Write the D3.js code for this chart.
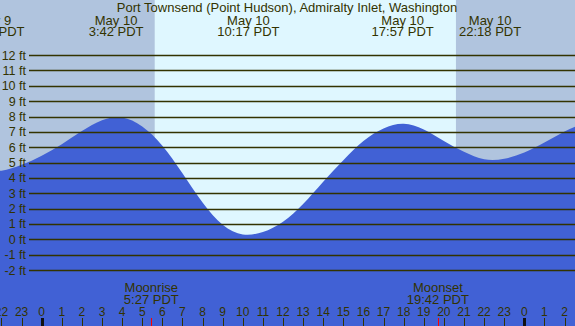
<!DOCTYPE html>
<html>
<head>
<meta charset="utf-8">
<script src="https://d3js.org/d3.v7.min.js"></script>
<style>
  body { margin: 0; background: #fff; }
  svg { display: block; font-family: "Liberation Sans", Arial, sans-serif; }
</style>
</head>
<body>
<script>
// hourly tide heights (hours from midnight May 10, feet)
var tideHours = d3.range(-3, 28)
var tideFeet  = [4.5, 4.47, 4.85, 5.45, 6.2, 7.05, 7.75, 7.93, 7.35, 6.1, 4.3, 2.4, 0.95, 0.32, 0.48, 1.15,
                 2.3, 3.75, 5.15, 6.4, 7.22, 7.52, 7.15, 6.4, 5.7, 5.22, 5.25, 5.65, 6.3, 7.02, 7.6]

// high / low labels
var eventHours = [-2.4, 3.7, 10.28, 17.95, 22.3]
var eventDates = ['May 9', 'May 10', 'May 10', 'May 10', 'May 10']
var eventTimes = ['21:36 PDT', '3:42 PDT', '10:17 PDT', '17:57 PDT', '22:18 PDT']

// sun and moon
var sunrise = 5.62, sunset = 20.6
var moonHours = [5.45, 19.7]
var moonNames = ['Moonrise', 'Moonset']
var moonTimes = ['5:27 PDT', '19:42 PDT']

var feetTicks = [12, 11, 10, 9, 8, 7, 6, 5, 4, 3, 2, 1, 0, -1, -2]
var hourTicks = d3.range(-2, 27)

var title = 'Port Townsend (Point Hudson), Admiralty Inlet, Washington'

var width = 575, height = 326
var ink = '#333300'

var x = d3.scaleLinear().domain([0, 24]).range([41.7, 524.3])
var y = d3.scaleLinear().domain([0, 12]).range([239.3, 55.1])

var svg = d3.select('body').append('svg')
    .attr('width', width)
    .attr('height', height)

// night / day background
svg.append('rect')
    .attr('width', width).attr('height', height)
    .attr('fill', '#b0c4de')
svg.append('rect')
    .attr('x', x(sunrise)).attr('y', 0)
    .attr('width', x(sunset) - x(sunrise)).attr('height', height)
    .attr('fill', '#dff7ff')

// water
var area = d3.area()
    .x(function (d, i) { return x(tideHours[i]) })
    .y0(height)
    .y1(function (d) { return y(d) })
    .curve(d3.curveNatural)

svg.append('path')
    .datum(tideFeet)
    .attr('d', area)
    .attr('fill', '#4161d5')

// height grid
var grid = svg.append('g')
grid.selectAll('line')
    .data(feetTicks)
    .enter()
    .append('line')
    .attr('x1', 29).attr('x2', width)
    .attr('y1', function (d) { return Math.round(y(d)) + 0.5 })
    .attr('y2', function (d) { return Math.round(y(d)) + 0.5 })
    .attr('stroke', ink)
    .attr('stroke-width', 1.3)
grid.selectAll('text')
    .data(feetTicks)
    .enter()
    .append('text')
    .attr('x', 26)
    .attr('y', function (d) { return y(d) })
    .attr('dy', '0.36em')
    .attr('text-anchor', 'end')
    .attr('font-size', 12.5)
    .attr('fill', ink)
    .text(function (d) { return d + ' ft' })

// title
svg.append('text')
    .attr('x', 287).attr('y', 12)
    .attr('text-anchor', 'middle')
    .attr('font-size', 13)
    .attr('fill', ink)
    .text(title)

// tide event labels
var ev = svg.append('g').selectAll('g')
    .data(eventHours)
    .enter()
    .append('g')
    .attr('transform', function (d) { return 'translate(' + x(d) + ',0)' })
ev.append('text')
    .attr('y', 24.5)
    .attr('text-anchor', 'middle')
    .attr('font-size', 13)
    .attr('fill', ink)
    .text(function (d, i) { return eventDates[i] })
ev.append('text')
    .attr('y', 36)
    .attr('text-anchor', 'middle')
    .attr('font-size', 13)
    .attr('fill', ink)
    .text(function (d, i) { return eventTimes[i] })

// moon labels
var moon = svg.append('g').selectAll('g')
    .data(moonHours)
    .enter()
    .append('g')
    .attr('transform', function (d) { return 'translate(' + x(d) + ',0)' })
moon.append('text')
    .attr('y', 292)
    .attr('text-anchor', 'middle')
    .attr('font-size', 13)
    .attr('fill', ink)
    .text(function (d, i) { return moonNames[i] })
moon.append('text')
    .attr('y', 304)
    .attr('text-anchor', 'middle')
    .attr('font-size', 13)
    .attr('fill', ink)
    .text(function (d, i) { return moonTimes[i] })

// hour axis
var hours = svg.append('g')
hours.selectAll('line')
    .data(hourTicks)
    .enter()
    .append('line')
    .attr('x1', function (d) { return Math.round(x(d)) + 0.5 })
    .attr('x2', function (d) { return Math.round(x(d)) + 0.5 })
    .attr('y1', 318).attr('y2', height)
    .attr('stroke', function (d) { return d % 24 === 0 ? '#111' : ink })
    .attr('stroke-width', function (d) { return d % 24 === 0 ? 3 : 1 })
hours.selectAll('text')
    .data(hourTicks)
    .enter()
    .append('text')
    .attr('x', function (d) { return x(d) })
    .attr('y', 316)
    .attr('text-anchor', 'middle')
    .attr('font-size', 12)
    .attr('fill', ink)
    .text(function (d) { return ((d % 24) + 24) % 24 })

svg.append('g').selectAll('line')
    .data(moonHours)
    .enter()
    .append('line')
    .attr('x1', function (d) { return Math.round(x(d)) + 0.5 })
    .attr('x2', function (d) { return Math.round(x(d)) + 0.5 })
    .attr('y1', 318).attr('y2', height)
    .attr('stroke', 'red')
</script>
</body>
</html>
